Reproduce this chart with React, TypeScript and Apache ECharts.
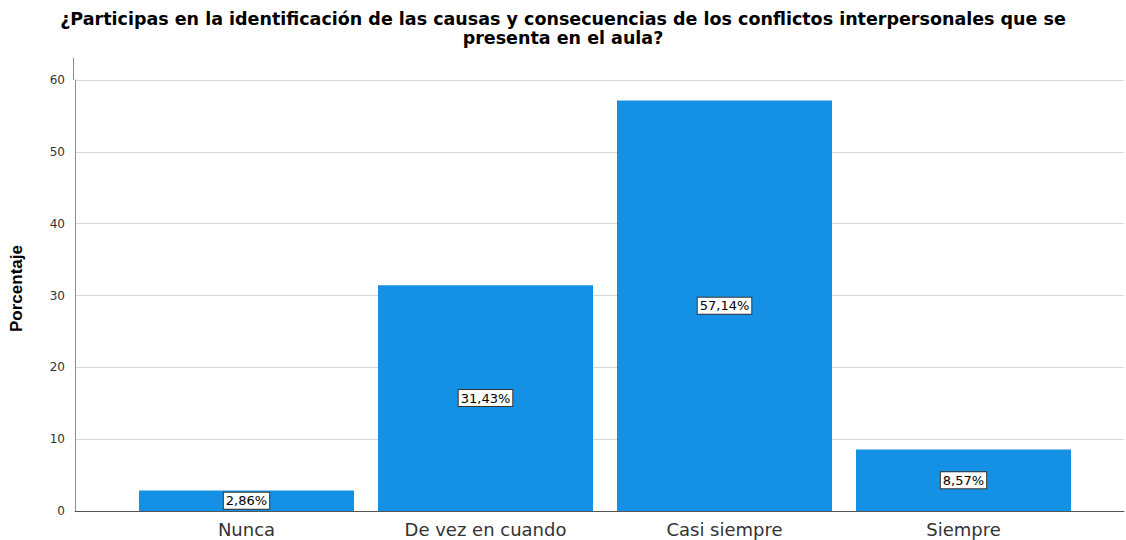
import React, { useEffect, useRef } from "react";
import * as echarts from "echarts";

const titleText =
  "¿Participas en la identificación de las causas y consecuencias de los conflictos interpersonales que se\npresenta en el aula?";
const categories = ["Nunca", "De vez en cuando", "Casi siempre", "Siempre"];
const percentages = [2.86, 31.43, 57.14, 8.57];
const yAxisName = "Porcentaje";

export default function App() {
  const ref = useRef<HTMLDivElement>(null);
  useEffect(() => {
    if (!ref.current) return;
    const chart = echarts.init(ref.current, null, { renderer: "svg" });
    const font = "'Liberation Sans', Arial, sans-serif";
    const wide = "'DejaVu Sans', sans-serif";
    chart.setOption({
      animation: false,
      backgroundColor: "#ffffff",
      textStyle: { fontFamily: font },
      title: {
        text: titleText,
        left: "center",
        top: 4,
        textStyle: {
          fontFamily: wide,
          fontSize: 17.5,
          fontWeight: "bold",
          color: "#000",
          lineHeight: 19.5,
          align: "center",
        },
      },
      graphic: [
        {
          type: "line",
          shape: { x1: 73.5, y1: 58, x2: 73.5, y2: 80 },
          style: { stroke: "#8c8c8c", lineWidth: 1 },
        },
      ],
      grid: [
        { left: 73, right: 2, top: 80, bottom: 29 },
        { left: 127, right: 43, top: 80, bottom: 29 },
      ],
      xAxis: [
        {
          gridIndex: 0,
          type: "value",
          min: 0,
          max: 1,
          axisLine: { show: true, onZero: false, lineStyle: { color: "#555", width: 1 } },
          axisTick: { show: false },
          axisLabel: { show: false },
          splitLine: { show: false },
        },
        {
          gridIndex: 1,
          type: "category",
          data: categories,
          axisLine: { show: false },
          axisTick: { show: false },
          axisLabel: {
            fontFamily: wide,
            fontSize: 18,
            color: "#333",
            margin: 9,
          },
        },
      ],
      yAxis: [
        {
          gridIndex: 0,
          type: "value",
          min: 0,
          max: 60,
          interval: 10,
          name: yAxisName,
          nameLocation: "middle",
          nameGap: 50,
          nameTextStyle: {
            fontFamily: font,
            fontSize: 17,
            fontWeight: "bold",
            color: "#000",
            padding: [0, 0, 0, 14],
          },
          axisLine: { show: true, lineStyle: { color: "#8c8c8c", width: 1 } },
          axisTick: { show: false },
          axisLabel: { fontFamily: wide, fontSize: 12, color: "#333", margin: 10 },
          splitLine: { show: true, lineStyle: { color: "#d6d6d6", width: 1 } },
        },
        {
          gridIndex: 1,
          type: "value",
          min: 0,
          max: 60,
          show: false,
          splitLine: { show: false },
        },
      ],
      series: [
        {
          type: "bar",
          xAxisIndex: 1,
          yAxisIndex: 1,
          data: percentages,
          barWidth: 215,
          itemStyle: { color: "#1490e5" },
          label: {
            show: true,
            position: "inside",
            formatter: (p: any) => p.value.toFixed(2).replace(".", ",") + "%",
            fontFamily: wide,
            fontSize: 13,
            color: "#000",
            backgroundColor: "#ffffff",
            borderColor: "#333",
            borderWidth: 1,
            padding: [2, 2, 1, 2],
          },
        },
      ],
    });
    return () => chart.dispose();
  }, []);
  return <div ref={ref} style={{ width: 1126, height: 540, position: "absolute", left: 0, top: 0 }} />;
}
